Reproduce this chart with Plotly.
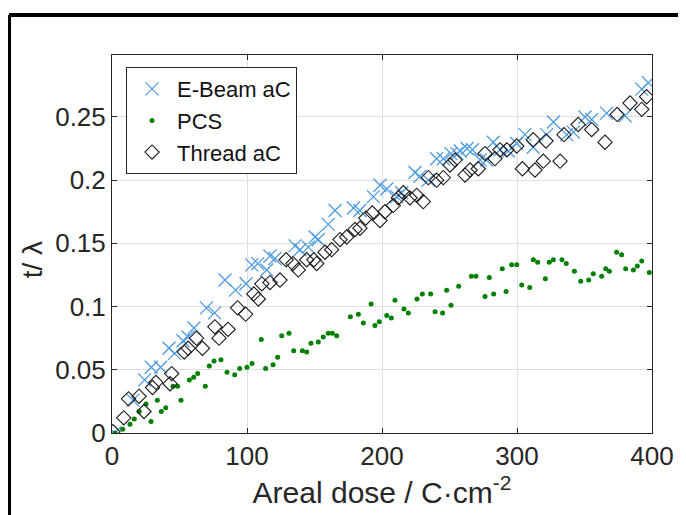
import plotly.graph_objects as go

# E-Beam aC
ebeam_x = [2, 15.5, 24.2, 29.1, 36, 42.2, 46.4, 52.6, 56.3, 60.7, 69.9, 76, 83.7, 91.5, 99.3,
           103.5, 108, 114.6, 117, 120.7, 135.6, 139.3, 145.4, 150.4, 152.8, 160.2, 165.2, 178.8,
           183.5, 193.6, 198.5, 203.5, 210.9, 214.6, 224.4, 228, 234.3, 240.5, 245.4, 251, 255.5,
           258, 263, 267, 272.6, 277.5, 282.4, 287.4, 293.6, 299.8, 305.9, 312, 322, 327, 336.8,
           341.7, 350.4, 355.3, 366.4, 380, 392.4, 397.3]
ebeam_y = [0.0, 0.026, 0.042, 0.052, 0.052, 0.067, 0.063, 0.073, 0.076, 0.083, 0.099, 0.095, 0.121,
           0.113, 0.118, 0.133, 0.134, 0.129, 0.140, 0.138, 0.148, 0.145, 0.147, 0.155, 0.153, 0.165,
           0.176, 0.178, 0.176, 0.187, 0.196, 0.193, 0.187, 0.190, 0.206, 0.203, 0.200, 0.217, 0.217,
           0.221, 0.221, 0.223, 0.225, 0.224, 0.216, 0.216, 0.230, 0.224, 0.223, 0.229, 0.236, 0.226,
           0.236, 0.246, 0.236, 0.238, 0.250, 0.248, 0.253, 0.251, 0.272, 0.277]

# PCS
pcs_x = [2.2, 7.9, 13.3, 16.5, 20.2, 25.2, 28.9, 33.6, 36.5, 39.8, 45.2, 48.6, 51.1, 57.3, 60.5,
         63.5, 69.1, 72.1, 75.6, 80.7, 85.2, 90.9, 94.6, 100, 103.7, 110.6, 113.8, 119.3, 122.7,
         125.7, 131.1, 134.6, 141, 144.2, 147.4, 152.8, 156.5, 160.2, 163.2, 166.4, 176.6, 182.5,
         186.2, 191.9, 194.8, 198, 203.5, 206.9, 209.6, 216.3, 219.5, 225.9, 229.9, 236, 239.3,
         244.9, 247.9, 251.1, 256.8, 266.2, 269.6, 276.3, 279.5, 282.7, 289.1, 291.9, 296, 299.8,
         303.5, 309.4, 312.1, 315.3, 321, 323.9, 326.9, 333.3, 336.5, 342.5, 347.2, 353.1, 356.5,
         362.7, 365.7, 368.4, 373.8, 377.5, 380.5, 386.2, 389.1, 392.4, 398]
pcs_y = [0.000, 0.003, 0.007, 0.011, 0.017, 0.023, 0.009, 0.026, 0.017, 0.020, 0.037, 0.037, 0.026,
         0.042, 0.044, 0.047, 0.037, 0.053, 0.057, 0.058, 0.048, 0.046, 0.051, 0.052, 0.055, 0.074,
         0.051, 0.054, 0.060, 0.077, 0.079, 0.065, 0.065, 0.064, 0.071, 0.072, 0.076, 0.079, 0.079,
         0.077, 0.092, 0.094, 0.087, 0.102, 0.085, 0.088, 0.093, 0.091, 0.105, 0.098, 0.095, 0.106,
         0.110, 0.110, 0.096, 0.095, 0.113, 0.101, 0.116, 0.124, 0.124, 0.108, 0.123, 0.110, 0.130,
         0.112, 0.133, 0.133, 0.117, 0.115, 0.137, 0.135, 0.122, 0.135, 0.137, 0.137, 0.134, 0.128,
         0.120, 0.121, 0.126, 0.124, 0.130, 0.128, 0.143, 0.141, 0.130, 0.129, 0.132, 0.136, 0.127]

# Thread aC
thread_x = [0.7, 8.7, 12.2, 20, 23.7, 30, 32.5, 43, 44.2, 53.5, 56.4, 62.6, 67, 76.2, 79.3, 86, 93,
            99, 105, 108.4, 111, 117, 124.4, 129, 134, 138, 144.2, 149.5, 151.6, 157.8, 162.7,
            168.9, 173.8, 180, 183.7, 188, 192.8, 198.5, 202.2, 208.4, 212.1, 215.8, 220.7, 225.7,
            230.6, 234.3, 240.5, 245.4, 250.4, 254.1, 261.5, 265.2, 271.3, 276.3, 283.7, 287.4,
            292.5, 299.8, 304, 312, 313.3, 319.5, 321.5, 331.9, 334.8, 345.3, 355.3, 365.2, 374.2,
            383.7, 392.4, 396]
thread_y = [0.001, 0.012, 0.027, 0.029, 0.017, 0.036, 0.040, 0.039, 0.047, 0.064, 0.067, 0.075,
            0.067, 0.084, 0.075, 0.082, 0.099, 0.094, 0.110, 0.106, 0.118, 0.119, 0.121, 0.137,
            0.134, 0.129, 0.137, 0.137, 0.134, 0.143, 0.145, 0.153, 0.155, 0.161, 0.162, 0.170,
            0.174, 0.168, 0.175, 0.180, 0.186, 0.190, 0.186, 0.188, 0.183, 0.202, 0.200, 0.202,
            0.212, 0.216, 0.204, 0.208, 0.209, 0.221, 0.217, 0.224, 0.224, 0.227, 0.209, 0.232,
            0.208, 0.215, 0.231, 0.215, 0.236, 0.244, 0.240, 0.230, 0.252, 0.261, 0.256, 0.266]

x_ticks = [0, 100, 200, 300, 400]
y_ticks = [0, 0.05, 0.1, 0.15, 0.2, 0.25]
y_ticktext = ["0", "0.05", "0.1", "0.15", "0.2", "0.25"]

FONT = "Liberation Sans, Arial, sans-serif"
AXCOL = "#262626"

fig = go.Figure()
fig.add_trace(go.Scatter(x=ebeam_x, y=ebeam_y, mode="markers", name="E-Beam aC",
                         marker=dict(symbol="x-thin", size=13, color="#4d9be0",
                                     line=dict(width=1.3, color="#4d9be0"))))
fig.add_trace(go.Scatter(x=pcs_x, y=pcs_y, mode="markers", name="PCS",
                         marker=dict(symbol="circle", size=5, color="#008000", line=dict(width=0))))
fig.add_trace(go.Scatter(x=thread_x, y=thread_y, mode="markers", name="Thread aC",
                         marker=dict(symbol="diamond-open", size=11, color="#1a1a1a",
                                     line=dict(width=1.1, color="#1a1a1a"))))

axis_common = dict(showline=True, linecolor=AXCOL, linewidth=1, mirror="ticks",
                   ticks="inside", ticklen=5, tickcolor=AXCOL,
                   showgrid=True, gridcolor="#dfdfdf", gridwidth=1, zeroline=False,
                   tickfont=dict(family=FONT, size=26, color=AXCOL))

fig.update_xaxes(range=[0, 400], tickvals=x_ticks,
                 title=dict(text="Areal dose / C·cm<sup>-2</sup>",
                            font=dict(family=FONT, size=30, color=AXCOL), standoff=9),
                 **axis_common)
fig.update_yaxes(range=[0, 0.299], tickvals=y_ticks, ticktext=y_ticktext, **axis_common)

# the page body adds 8px on the left/top, so margins are trimmed by that amount
fig.update_layout(
    width=686, height=515,
    margin=dict(l=104, r=42, t=47, b=90),
    paper_bgcolor="white", plot_bgcolor="white",
    font=dict(family=FONT, color=AXCOL),
    showlegend=True,
    legend=dict(x=0.026, y=0.968, xanchor="left", yanchor="top",
                bgcolor="white", bordercolor=AXCOL, borderwidth=1,
                font=dict(family=FONT, size=22, color="#111111"),
                tracegroupgap=0, itemwidth=40),
    annotations=[
        dict(text="t/ λ", xref="paper", yref="paper", x=-0.148, y=0.457,
             xanchor="center", yanchor="middle", textangle=-90, showarrow=False,
             font=dict(family=FONT, size=28, color=AXCOL)),
    ],
    shapes=[
        dict(type="line", xref="paper", yref="paper", x0=-0.1907, x1=1.2, y0=1.1058, y1=1.1058,
             line=dict(color="black", width=4)),
        dict(type="line", xref="paper", yref="paper", x0=-0.1907, x1=-0.1907, y0=1.1058, y1=-0.4,
             line=dict(color="black", width=4)),
    ],
)

fig.write_html("out.html")
